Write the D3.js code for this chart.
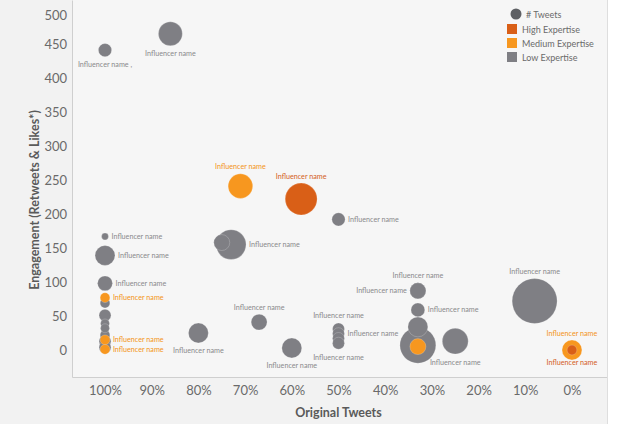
<!DOCTYPE html>
<html>
<head>
<meta charset="utf-8">
<script src="https://cdn.jsdelivr.net/npm/d3@7"></script>
<style>
  html, body { margin: 0; padding: 0; background: #ffffff; }
  svg { display: block; font-family: Lato, "Open Sans", sans-serif; }
</style>
</head>
<body>
<svg id="chart" width="621" height="424"></svg>
<script>
// Share of original tweets (%), engagement, tweet count and expertise level per influencer
const originalPct = [100, 86, 71, 58, 50, 75, 73,
  100, 100, 100, 100, 100, 100, 100, 100, 100, 100, 100, 100, 100,
  80, 67, 60, 50, 50, 50, 50,
  33, 33, 33, 33, 33, 33, 25, 8, 0, 0];
const engagement = [441, 465, 241, 222, 192, 158, 155,
  167, 139, 98, 77, 69, 51, 39, 32, 22, 13, 4, 15, 1,
  25, 41, 3, 31, 24, 17, 10,
  87, 59, 34, 7, 5, 87, 13, 72, 0, 0];
const tweets = [11, 36, 38, 64, 11, 16, 56,
  3, 25, 14, 6, 6, 9, 5, 5, 6, 9, 9, 6, 6,
  25, 16, 25, 9, 9, 9, 9,
  16, 12, 25, 81, 16, 16, 42, 127, 25, 6];
const expertise = ["Low", "Low", "Medium", "High", "Low", "Low", "Low",
  "Low", "Low", "Low", "Medium", "Low", "Low", "Low", "Low", "Low", "Low", "Low", "Medium", "Medium",
  "Low", "Low", "Low", "Low", "Low", "Low", "Low",
  "Low", "Low", "Low", "Low", "Medium", "Low", "Low", "Low", "Medium", "High"];
const names = ["Influencer name ,", "Influencer name", "Influencer name", "Influencer name", "Influencer name", "", "Influencer name",
  "Influencer name", "Influencer name", "Influencer name", "Influencer name", "", "", "", "", "", "", "", "Influencer name", "Influencer name",
  "Influencer name", "Influencer name", "Influencer name", "Influencer name", "Influencer name", "", "Influencer name",
  "Influencer name", "Influencer name", "", "", "", "Influencer name", "Influencer name", "Influencer name", "Influencer name", "Influencer name"];

const xTicks = [100, 90, 80, 70, 60, 50, 40, 30, 20, 10, 0];
const yTicks = [0, 50, 100, 150, 200, 250, 300, 350, 400, 450, 500];
const legendLevels = ["High Expertise", "Medium Expertise", "Low Expertise"];

// Where each label sits around its bubble
const labelSide = {0: "below", 1: "below", 2: "above", 3: "above", 4: "right", 6: "right",
  7: "right", 8: "right", 9: "right", 10: "right", 18: "right", 19: "right",
  20: "below", 21: "above", 22: "below", 23: "above", 24: "right", 26: "below",
  27: "left", 28: "right", 32: "above", 33: "below", 34: "above", 35: "above", 36: "below"};

const colors = { High: "#d95f17", Medium: "#f7971f", Low: "#7f7f84" };
const labelColors = { High: "#d4601e", Medium: "#f39420", Low: "#8a8a8c" };

const svg = d3.select("#chart");
const W = 621, H = 424;
const plot = { left: 72, right: 607, top: 0, bottom: 377 };

// backgrounds
svg.append("rect").attr("x", 0).attr("y", 0).attr("width", 608).attr("height", H).attr("fill", "#f2f2f2");
svg.append("rect").attr("x", plot.left).attr("y", plot.top)
  .attr("width", plot.right - plot.left).attr("height", plot.bottom - plot.top).attr("fill", "#f6f6f6");

const x = d3.scaleLinear().domain([107.07, -7.5]).range([plot.left, plot.right]);
const y = d3.scaleLinear().domain([-39.7, 514.7]).range([plot.bottom, plot.top]);
const r = d3.scaleSqrt().domain([0, 127]).range([0, 22.5]);

// axes
const xAxis = d3.axisBottom(x).tickValues(xTicks).tickFormat(d => d + "%").tickSize(0).tickPadding(9);
const yAxis = d3.axisLeft(y).tickValues(yTicks).tickSize(0).tickPadding(5);

const gx = svg.append("g").attr("transform", `translate(0,${plot.bottom})`).call(xAxis);
const gy = svg.append("g").attr("transform", `translate(${plot.left},0)`).call(yAxis);
[gx, gy].forEach(g => {
  g.select(".domain").attr("stroke", "#cfcfcf").attr("stroke-width", 1);
  g.selectAll("text").attr("fill", "#6a6a6a").attr("font-size", 13).attr("font-family", "Lato, sans-serif");
});
gy.selectAll(".tick").filter(d => d === 500).select("text").attr("dy", "0.75em");

svg.append("line").attr("x1", 607.5).attr("x2", 607.5).attr("y1", 0).attr("y2", H)
  .attr("stroke", "#dedede");

svg.append("text").attr("x", (x(100) + x(0)) / 2).attr("y", 417)
  .attr("text-anchor", "middle").attr("font-size", 12.5).attr("font-weight", 700)
  .attr("fill", "#5a5a5a").text("Original Tweets");
svg.append("text").attr("transform", `translate(39,${y(250) + 20}) rotate(-90)`)
  .attr("text-anchor", "middle").attr("font-size", 12.5).attr("font-weight", 700)
  .attr("fill", "#5a5a5a").text("Engagement (Retweets & Likes*)");

// bubbles, biggest first so small ones stay visible
const data = originalPct.map((p, i) => ({
  i, pct: p, eng: engagement[i], n: tweets[i], level: expertise[i], name: names[i]
}));
const drawOrder = data.slice().sort((a, b) => {
  const rank = l => (l === "Low" ? 0 : 1);
  return rank(a.level) - rank(b.level) || b.n - a.n;
});

svg.append("g").selectAll("circle").data(drawOrder).join("circle")
  .attr("cx", d => x(d.pct)).attr("cy", d => y(d.eng)).attr("r", d => r(d.n))
  .attr("fill", d => colors[d.level])
  .attr("stroke", "#ffffff").attr("stroke-opacity", 0.35).attr("stroke-width", 0.6);

// labels
const labelled = data.filter(d => labelSide[d.i] && d.name);
svg.append("g").selectAll("text").data(labelled).join("text")
  .attr("font-size", 7.2)
  .attr("dominant-baseline", "central")
  .attr("fill", d => labelColors[d.level])
  .attr("text-anchor", d => {
    const s = labelSide[d.i];
    return s === "right" ? "start" : s === "left" ? "end" : "middle";
  })
  .attr("x", d => {
    const s = labelSide[d.i], cx = x(d.pct), rr = r(d.n);
    return s === "right" ? cx + rr + 3 : s === "left" ? cx - rr - 3 : cx;
  })
  .attr("y", d => {
    const s = labelSide[d.i], cy = y(d.eng), rr = r(d.n);
    return s === "above" ? cy - rr - 7 : s === "below" ? cy + rr + 8 : cy;
  })
  .text(d => d.name);

// legend
const lg = svg.append("g").attr("font-size", 9).attr("fill", "#6a6a6a");
lg.append("circle").attr("cx", 516).attr("cy", 14).attr("r", 5.5).attr("fill", "#5e6064");
lg.append("text").attr("x", 526).attr("y", 14).attr("dominant-baseline", "central").text("# Tweets");
const legendColors = [colors.High, colors.Medium, colors.Low];
legendLevels.forEach((lab, k) => {
  lg.append("rect").attr("x", 507).attr("y", 24 + k * 14).attr("width", 10).attr("height", 10)
    .attr("fill", legendColors[k]);
  lg.append("text").attr("x", 522).attr("y", 29 + k * 14).attr("dominant-baseline", "central").text(lab);
});
</script>
</body>
</html>
